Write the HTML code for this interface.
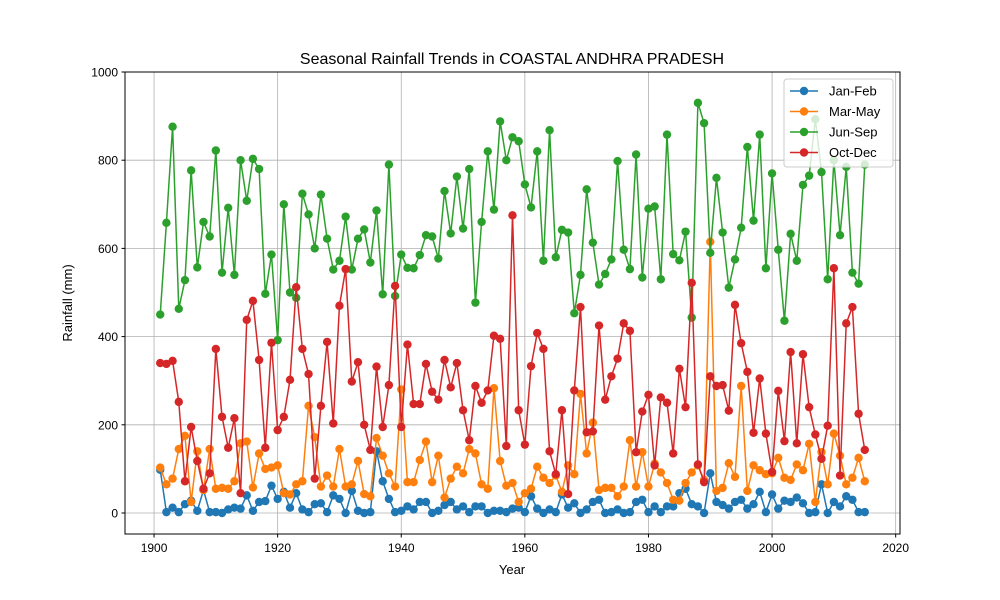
<!DOCTYPE html>
<html><head><meta charset="utf-8"><style>body{margin:0;background:#fff}svg{display:block;font-family:"Liberation Sans","DejaVu Sans",sans-serif}</style></head>
<body>
<svg id="chart" width="1000" height="600" viewBox="0 0 1000 600" xmlns="http://www.w3.org/2000/svg">
<rect width="1000" height="600" fill="#fff"/>
<text x="512" y="64" font-size="16" text-anchor="middle">Seasonal Rainfall Trends in COASTAL ANDHRA PRADESH</text>
<g id="grid"></g><g id="series"></g>
<rect x="125" y="72" width="775" height="462" fill="none" stroke="#000" stroke-width="1"/>
<g id="ticks"></g>
<text x="512" y="574" font-size="13" text-anchor="middle">Year</text>
<text transform="translate(72,303) rotate(-90)" font-size="13" text-anchor="middle">Rainfall (mm)</text>
<g id="legend"></g>
</svg>
<script>
const years=[];for(let y=1901;y<=2015;y++)years.push(y);
const seriesNames=["Jan-Feb","Mar-May","Jun-Sep","Oct-Dec"];
const janFeb=[98,2,12,2,20,28,5,52,2,2,0,8,12,10,40,5,25,27,62,32,48,12,45,8,2,20,22,2,40,32,0,50,5,0,2,140,72,32,2,5,15,8,25,25,0,5,18,25,8,15,2,15,15,0,5,5,2,10,12,2,38,10,0,8,2,42,12,22,0,8,25,30,0,2,8,0,2,25,30,2,15,2,15,15,45,55,20,15,0,90,25,18,10,25,30,10,20,48,2,42,10,28,25,35,22,0,2,65,0,25,15,38,30,2,2];
const marMay=[103,65,78,145,175,25,140,52,145,55,57,55,72,158,162,58,135,100,103,108,45,42,65,72,243,172,60,85,60,145,60,65,118,43,38,170,130,90,60,280,70,70,120,162,70,130,35,78,105,90,145,135,65,55,283,118,62,68,25,45,55,105,80,68,85,48,108,88,270,135,205,52,57,57,38,60,165,60,138,60,112,92,68,30,28,68,92,108,75,615,50,57,113,82,288,50,108,97,88,90,125,80,75,110,97,157,25,138,65,180,130,65,80,125,72];
const junSep=[450,658,876,463,528,777,557,660,627,822,545,692,540,800,708,803,780,497,586,392,700,500,488,724,677,600,722,622,552,572,672,552,622,643,568,686,496,790,492,586,556,555,585,630,627,577,730,634,763,645,780,477,660,820,688,888,800,852,843,745,693,820,572,868,580,642,636,453,540,734,613,518,542,575,798,597,553,813,534,690,695,530,858,587,573,638,443,930,884,590,760,636,511,575,647,830,663,858,555,770,597,436,633,572,744,765,893,773,530,800,630,785,545,520,790];
const octDec=[340,338,345,252,72,195,118,55,90,372,218,148,215,45,438,481,347,148,386,188,218,302,512,372,315,78,243,388,203,470,553,298,342,200,143,332,195,290,515,195,382,247,247,338,275,257,347,285,340,233,165,288,250,278,402,395,152,675,233,155,333,408,372,140,88,233,43,278,467,183,185,425,257,310,350,430,413,138,230,268,108,262,250,135,327,240,522,110,70,310,288,290,232,472,385,320,182,305,180,93,277,163,365,158,360,240,178,123,198,555,85,430,467,225,143];
const xTicks=[1900,1920,1940,1960,1980,2000,2020];
const yTicks=[0,200,400,600,800,1000];
const colors=["#1f77b4","#ff7f0e","#2ca02c","#d62728"];
const NS="http://www.w3.org/2000/svg";
const X0=125,X1=900,Y0=72,Y1=534,xmin=1895.3,xmax=2020.7,ymin=-47.6,ymax=1000;
const xs=v=>X0+(v-xmin)/(xmax-xmin)*(X1-X0);
const ys=v=>Y1-(v-ymin)/(ymax-ymin)*(Y1-Y0);
function mk(tag,attrs,parent){const e=document.createElementNS(NS,tag);for(const k in attrs)e.setAttribute(k,attrs[k]);parent.appendChild(e);return e;}
const grid=document.getElementById('grid'),ticks=document.getElementById('ticks');
xTicks.forEach(t=>{const x=xs(t);
 const g=mk('line',{x1:x,x2:x,y1:Y0,y2:Y1,stroke:'#b0b0b0','stroke-width':0.8},grid);
 
 mk('line',{x1:x,x2:x,y1:Y1,y2:Y1+3.5,stroke:'#000'},ticks);
 const tx=mk('text',{x:x,y:Y1+18,'font-size':12,'text-anchor':'middle'},ticks);tx.textContent=t;
 });
yTicks.forEach(t=>{const y=ys(t);
 const g=mk('line',{x1:X0,x2:X1,y1:y,y2:y,stroke:'#b0b0b0','stroke-width':0.8},grid);
 
 mk('line',{x1:X0-3.5,x2:X0,y1:y,y2:y,stroke:'#000'},ticks);
 const tx=mk('text',{x:X0-7,y:y+4.5,'font-size':12,'text-anchor':'end'},ticks);tx.textContent=t;
 });
const sg=document.getElementById('series');
[janFeb,marMay,junSep,octDec].forEach((arr,i)=>{
 const g=mk('g',{},sg);
 
 
 const pts=arr.map((v,j)=>xs(years[j]).toFixed(2)+','+ys(v).toFixed(2)).join(' ');
 const pl=mk('polyline',{points:pts,fill:'none',stroke:colors[i],'stroke-width':1.5,'stroke-linejoin':'round'},g);
 
 
 arr.forEach((v,j)=>{const c=mk('circle',{cx:xs(years[j]),cy:ys(v),r:4.2,fill:colors[i]},g);
  
  });
});
const lg=document.getElementById('legend');
const box=mk('rect',{x:784,y:79,width:109,height:88,rx:3,fill:'#fff','fill-opacity':0.8,stroke:'#ccc'},lg);


seriesNames.forEach((n,i)=>{const y=91+i*20.5;
 mk('line',{x1:790,x2:818,y1:y,y2:y,stroke:colors[i],'stroke-width':1.5},lg);
 mk('circle',{cx:804,cy:y,r:4.2,fill:colors[i]},lg);
 const t=mk('text',{x:829,y:y+4.5,'font-size':13},lg);t.textContent=n;
 
 });
</script>
</body></html>
